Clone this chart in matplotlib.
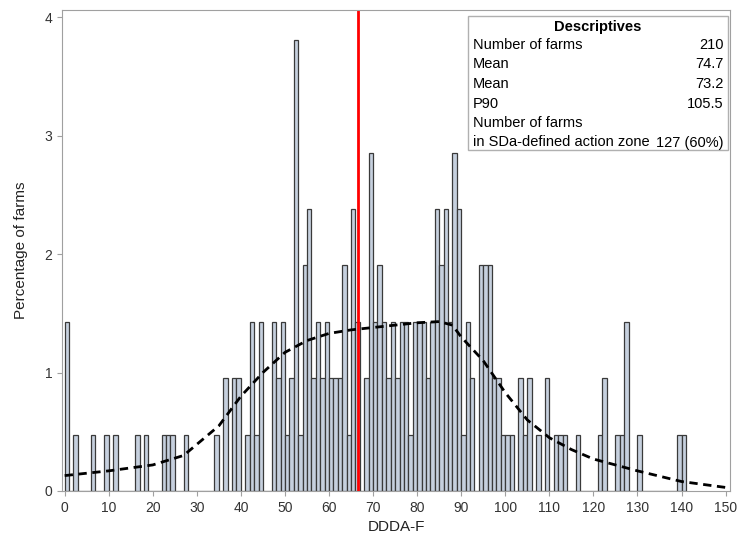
import numpy as np
import matplotlib
matplotlib.use('Agg')
import matplotlib.pyplot as plt
from matplotlib.patches import Rectangle

n_farms = 210
bins = [0, 2, 6, 9, 11, 16, 18, 22, 23, 24, 27,
        34, 36, 38, 39, 41, 42, 43, 44, 47, 48, 49, 50, 51, 52, 53, 54, 55, 56, 57,
        58, 59, 60, 61, 62, 63, 64, 65, 66, 68,
        69, 70, 71, 72, 73, 74, 75, 76, 77, 78, 79, 80, 81, 82, 83, 84, 85, 86, 87, 88,
        89, 90, 91, 92, 94, 95, 96, 97, 98, 99, 100, 101,
        103, 104, 105, 107, 109, 111, 112, 113, 116, 121, 122, 125, 126, 127, 130, 139, 140]
counts = [3, 1, 1, 1, 1, 1, 1, 1, 1, 1, 1,
          1, 2, 2, 2, 1, 3, 1, 3, 3, 2, 3, 1, 2, 8, 1, 4, 5, 2, 3,
          2, 3, 2, 2, 2, 4, 1, 5, 3, 2,
          6, 3, 4, 3, 2, 3, 2, 3, 3, 1, 3, 3, 3, 2, 3, 5, 4, 5, 3, 6,
          5, 1, 3, 2, 4, 4, 4, 2, 2, 1, 1, 1,
          2, 1, 2, 1, 2, 1, 1, 1, 1, 1, 2, 1, 1, 3, 1, 1, 1]
curve_x = [0, 10, 20, 27, 35, 40, 45, 50, 55, 60, 65, 70, 75, 80, 85, 88, 90, 95,
           100, 105, 110, 115, 120, 125, 130, 140, 150]
curve_y = [0.13, 0.17, 0.22, 0.30, 0.55, 0.80, 1.00, 1.17, 1.27, 1.33, 1.36, 1.38,
           1.40, 1.42, 1.43, 1.40, 1.30, 1.10, 0.83, 0.60, 0.45, 0.35, 0.27, 0.22,
           0.17, 0.08, 0.03]
ref_line = 66.5

plt.rcParams['font.family'] = ['Liberation Sans', 'DejaVu Sans']
fig = plt.figure(figsize=(7.38, 5.48), dpi=100)
ax = fig.add_axes([62/738, 57/548, 668/738, 481/548])

# full histogram with empty bins drawn as flat
all_bins = np.arange(0, 150)
pct = np.zeros(len(all_bins))
for b, c in zip(bins, counts):
    pct[b] = c / n_farms * 100
last = max(bins)
ax.bar(all_bins[:last + 1] + 0.5, pct[:last + 1], width=1, color='#c6d0de',
       edgecolor='#3a3a3a', linewidth=0.9)
ax.plot(curve_x, curve_y, color='black', linestyle=(0, (3, 2)), linewidth=2)
ax.axvline(ref_line, color='red', linewidth=2)

ax.set_xlim(-0.6, 151)
ax.set_ylim(0, 4.06)
ax.set_xticks(range(0, 151, 10))
ax.set_yticks(range(0, 5))
for s in ax.spines.values():
    s.set_color('#a0a0a0')
ax.tick_params(colors='#a0a0a0', labelcolor='#333333', labelsize=10)
ax.set_xlabel('DDDA-F', fontsize=11, color='#222222')
ax.set_ylabel('Percentage of farms', fontsize=11, color='#222222', labelpad=12)

# descriptives box
x0, y0 = 468 / 738, 1 - 150 / 548
w, h = 260 / 738, 134 / 548
fig.patches.append(Rectangle((x0, y0), w, h, transform=fig.transFigure,
                             facecolor='white', edgecolor='#b0b0b0', linewidth=1))
rows = [('Number of farms', '210'), ('Mean', '74.7'), ('Mean', '73.2'),
        ('P90', '105.5'), ('Number of farms', ''),
        ('in SDa-defined action zone', '127 (60%)')]
fig.text(x0 + w / 2, 1 - 27 / 548, 'Descriptives', ha='center', va='center',
         fontsize=10.5, fontweight='bold')
for i, (lab, val) in enumerate(rows):
    yy = 1 - (45 + i * 19.5) / 548
    fig.text(x0 + 5 / 738, yy, lab, ha='left', va='center', fontsize=10.5)
    fig.text(x0 + w - 4 / 738, yy, val, ha='right', va='center', fontsize=10.5)

fig.savefig('out.png', dpi=100)
